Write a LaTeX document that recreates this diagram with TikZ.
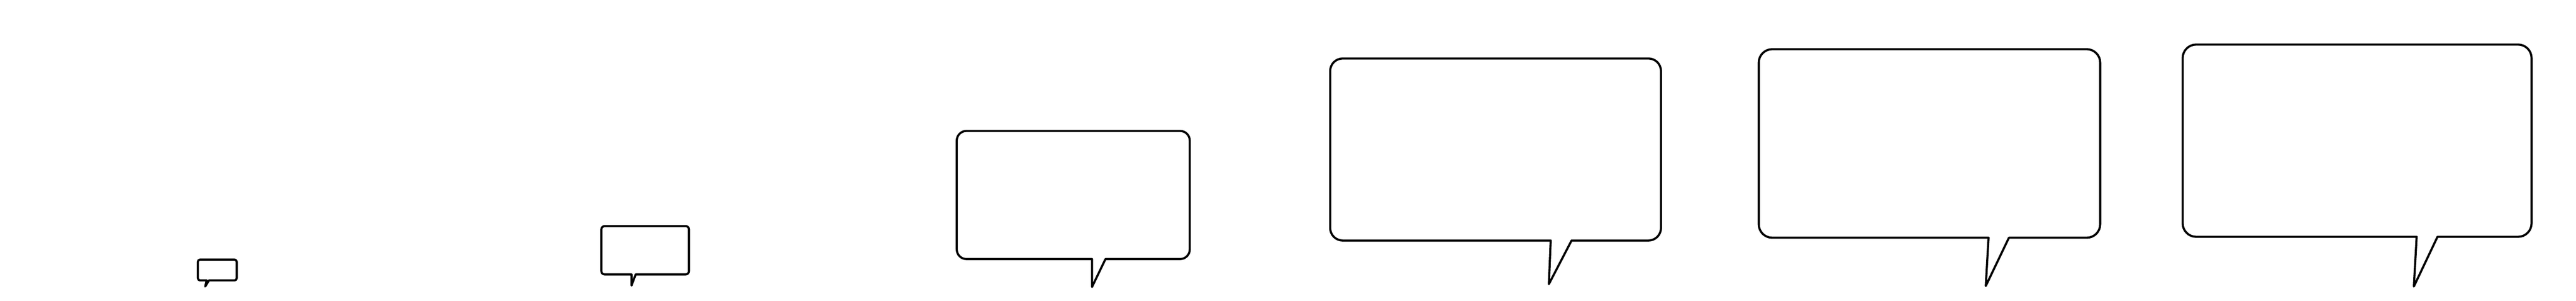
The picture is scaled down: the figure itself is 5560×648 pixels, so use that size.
\documentclass[tikz,border=0pt]{standalone}
\usepackage{tikz}

\tikzset{bubble/.style={draw=black, fill=white, line width=1.3pt, line join=round}}

\begin{document}
\begin{tikzpicture}[x=0.01cm,y=0.01cm]
        \useasboundingbox (0,0) rectangle (5560,648);
        % left/right/top/bottom, corner radius, notch left/right, tip
        \foreach \xa/\xb/\ya/\yb/\rad/\na/\nb/\tipx/\tipy in {
                427/511/89/44/5/446/451/443/31,
                1298/1487/161/57/7/1363/1372/1363/33,
                2065/2568/366/90/21/2357/2386/2357/30,
                2871/3585/522/130/27/3347/3392/3343/36,
                3796/4533/542/136/29/4292/4336/4286/32,
                4711/5464/552/138/29/5216/5261/5210/31}
        {
                \draw[bubble] (\na,\yb) -- ({\xa+\rad},\yb)
                        arc[start angle=270, end angle=180, radius=\rad] -- (\xa,{\ya-\rad})
                        arc[start angle=180, end angle=90, radius=\rad] -- ({\xb-\rad},\ya)
                        arc[start angle=90, end angle=0, radius=\rad] -- (\xb,{\yb+\rad})
                        arc[start angle=0, end angle=-90, radius=\rad] -- (\nb,\yb)
                        -- (\tipx,\tipy) -- cycle;
        }
\end{tikzpicture}
\end{document}
